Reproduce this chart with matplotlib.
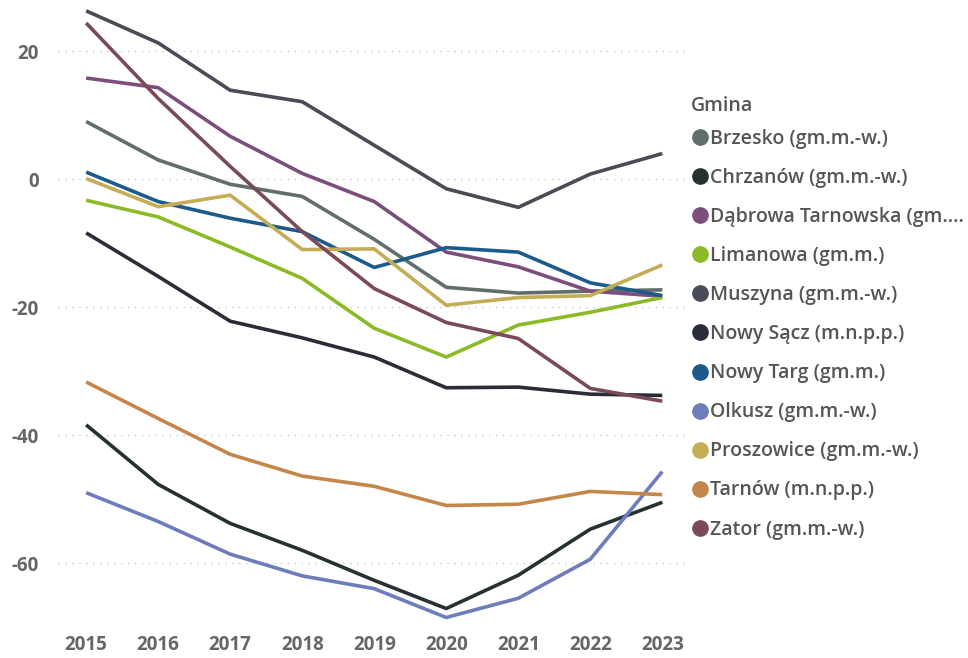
import matplotlib
matplotlib.use("Agg")
import matplotlib.pyplot as plt
from matplotlib.lines import Line2D

plt.rcParams['font.family'] = ['Open Sans', 'DejaVu Sans']
plt.rcParams['axes.unicode_minus'] = False

# --- dane ---
years = [2015, 2016, 2017, 2018, 2019, 2020, 2021, 2022, 2023]

gminy = [
    "Brzesko (gm.m.-w.)",
    "Chrzanów (gm.m.-w.)",
    "Dąbrowa Tarnowska (gm....",
    "Limanowa (gm.m.)",
    "Muszyna (gm.m.-w.)",
    "Nowy Sącz (m.n.p.p.)",
    "Nowy Targ (gm.m.)",
    "Olkusz (gm.m.-w.)",
    "Proszowice (gm.m.-w.)",
    "Tarnów (m.n.p.p.)",
    "Zator (gm.m.-w.)",
]

brzesko = [9.0, 3.0, -0.8, -2.7, -9.4, -16.9, -17.8, -17.5, -17.3]
chrzanow = [-38.4, -47.7, -53.8, -58.0, -62.7, -67.1, -61.9, -54.7, -50.5]
dabrowa = [15.8, 14.3, 6.7, 0.9, -3.5, -11.4, -13.7, -17.5, -18.3]
limanowa = [-3.3, -5.9, -10.6, -15.5, -23.3, -27.8, -22.8, -20.8, -18.5]
muszyna = [26.3, 21.3, 13.9, 12.1, 5.3, -1.5, -4.4, 0.8, 4.0]
nowy_sacz = [-8.4, -15.2, -22.2, -24.8, -27.8, -32.6, -32.5, -33.6, -33.8]
nowy_targ = [1.1, -3.5, -6.1, -8.2, -13.8, -10.7, -11.4, -16.2, -18.2]
olkusz = [-49.0, -53.5, -58.6, -62.0, -64.0, -68.5, -65.5, -59.4, -45.7]
proszowice = [0.1, -4.3, -2.5, -11.0, -10.9, -19.7, -18.5, -18.2, -13.4]
tarnow = [-31.7, -37.4, -43.0, -46.4, -48.0, -51.0, -50.8, -48.8, -49.3]
zator = [24.4, 12.6, 2.0, -8.2, -17.1, -22.4, -24.9, -32.7, -34.7]

serie = [brzesko, chrzanow, dabrowa, limanowa, muszyna, nowy_sacz,
         nowy_targ, olkusz, proszowice, tarnow, zator]

kolory = ['#626d6d', '#263232', '#7b4e7c', '#8bba26', '#494c56', '#2a2d37',
          '#1c5a8b', '#6d7dbb', '#c4ad55', '#c3874a', '#7a4a58']

y_ticks = [20, 0, -20, -40, -60]

# --- wykres ---
fig = plt.figure(figsize=(9.68, 6.58), dpi=100)
ax = fig.add_axes([0.06, 0.047, 0.648, 0.953])

for vals, kol, nazwa in zip(serie, kolory, gminy):
    ax.plot(years, vals, color=kol, lw=2.6, label=nazwa, solid_capstyle='butt')

ax.set_xlim(2014.61, 2023.32)
ax.set_ylim(-70, 28)
ax.set_xticks(years)
ax.set_yticks(y_ticks)
ax.tick_params(length=0, labelsize=13.5, labelcolor='#666666')
ax.tick_params(axis='x', pad=6)
ax.tick_params(axis='y', pad=14)
for lab in ax.get_xticklabels() + ax.get_yticklabels():
    lab.set_fontweight('bold')
ax.yaxis.grid(True, linestyle=(0, (1, 4)), color='#c8c8c8', lw=1)
ax.set_axisbelow(True)
for s in ax.spines.values():
    s.set_visible(False)

# legenda (tytuł osobno)
fig.text(0.714, 1 - 106 / 658, 'Gmina', fontsize=14, fontweight='semibold',
         color='#555555', va='center', ha='left')
uchwyty = [Line2D([], [], ls='none', marker='o', markersize=11,
                  markerfacecolor=k, markeredgecolor=k) for k in kolory]
leg = fig.legend(uchwyty, gminy, loc='upper left',
                 bbox_to_anchor=(0.714, 1 - 129 / 658), frameon=False,
                 handletextpad=0.05, labelspacing=0.98, handlelength=0.9,
                 borderaxespad=0, borderpad=0,
                 prop={'size': 14, 'weight': 'semibold'})
for t in leg.get_texts():
    t.set_color('#555555')

fig.savefig('out.png', dpi=100)
